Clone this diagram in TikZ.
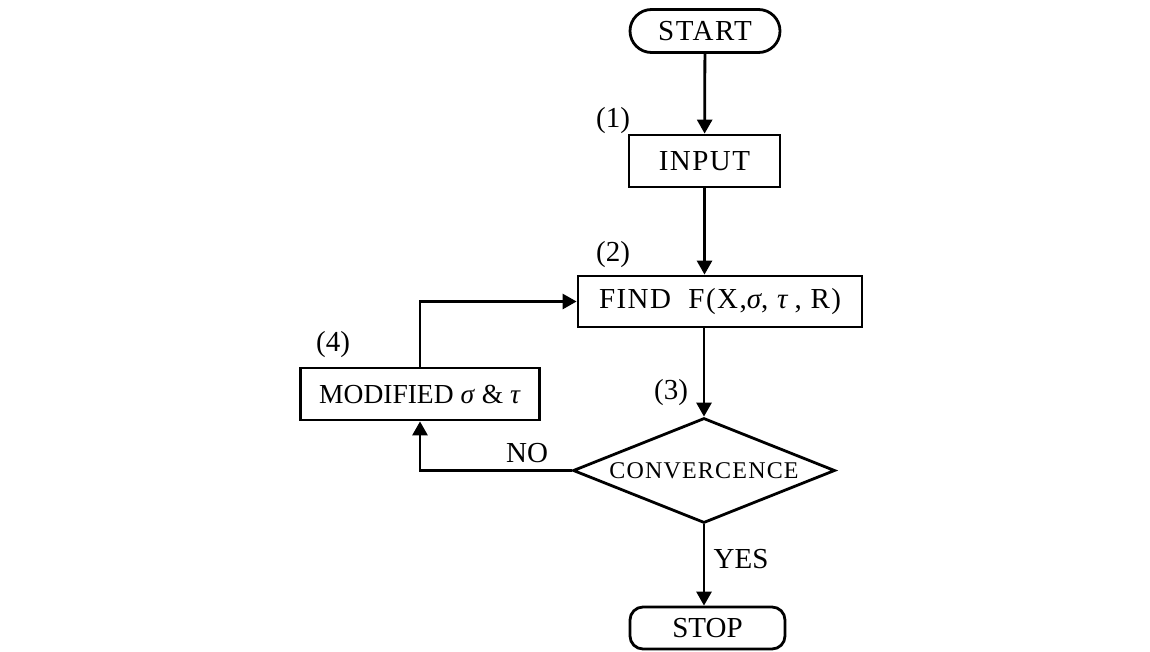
\documentclass[tikz,border=0pt]{standalone}
\usepackage{fontspec}
\setmainfont{Liberation Serif}
\newfontfamily\spaced[LetterSpace=5]{Liberation Serif}
\usetikzlibrary{shapes.geometric,arrows.meta}
\begin{document}
\begin{tikzpicture}[x=1pt,y=-1pt,
  line width=2.8pt,
  font=\fontsize{29}{34}\selectfont,
  arr/.style={-{Triangle[length=14pt,width=15pt]}},
  box/.style={draw,inner sep=0pt,minimum height=52pt},
  term/.style={draw,inner sep=0pt,minimum height=43pt},
  lbl/.style={inner sep=0pt}
]
\useasboundingbox (0,0) rectangle (1150,651);
\node[term,rounded corners=21.5pt,minimum width=150pt,font=\fontsize{29}{34}\spaced] (start) at (705,31) {START};
\node[box,minimum width=151pt,font=\fontsize{29}{34}\spaced] (input) at (704.5,161) {INPUT};
\node[box,minimum width=284pt,minimum height=51pt,font=\fontsize{29}{34}\spaced] (find) at (720,301.5) {FIND\ \ F(X,\textit{σ},\ \textit{τ}\,, R)};
\node[box,minimum width=239pt,font=\fontsize{27.5}{32}\selectfont] (mod) at (420,394) {MODIFIED \textit{σ} \& \textit{τ}};
\node[draw,diamond,aspect=2.5,inner sep=0pt,minimum width=262pt,minimum height=105pt,
      font=\fontsize{24}{30}\spaced] (conv) at (704,470.5) {CONVERCENCE};
\node[term,rounded corners=13pt,minimum width=155pt,minimum height=42pt] (stop) at (707.5,628) {STOP};

\node[lbl] (l1) at (613,121) {(1)};
\node[lbl] (l2) at (613,255) {(2)};
\node[lbl] (l3) at (671,393) {(3)};
\node[lbl] (l4) at (333,345) {(4)};
\node[lbl] (no) at (527,453) {NO};
\node[lbl] (yes) at (741,559) {YES};

\draw[arr] (start) -- (input);
\draw[arr] (input.south) -- (input.south |- find.north);
\draw[arr] (conv.north |- find.south) -- (conv.north);
\draw[arr] (mod.north) |- (find.west);
\draw[arr] (conv.west) -| (mod.south);
\draw[arr] (conv.south) -- (conv.south |- stop.north);
\end{tikzpicture}
\end{document}
